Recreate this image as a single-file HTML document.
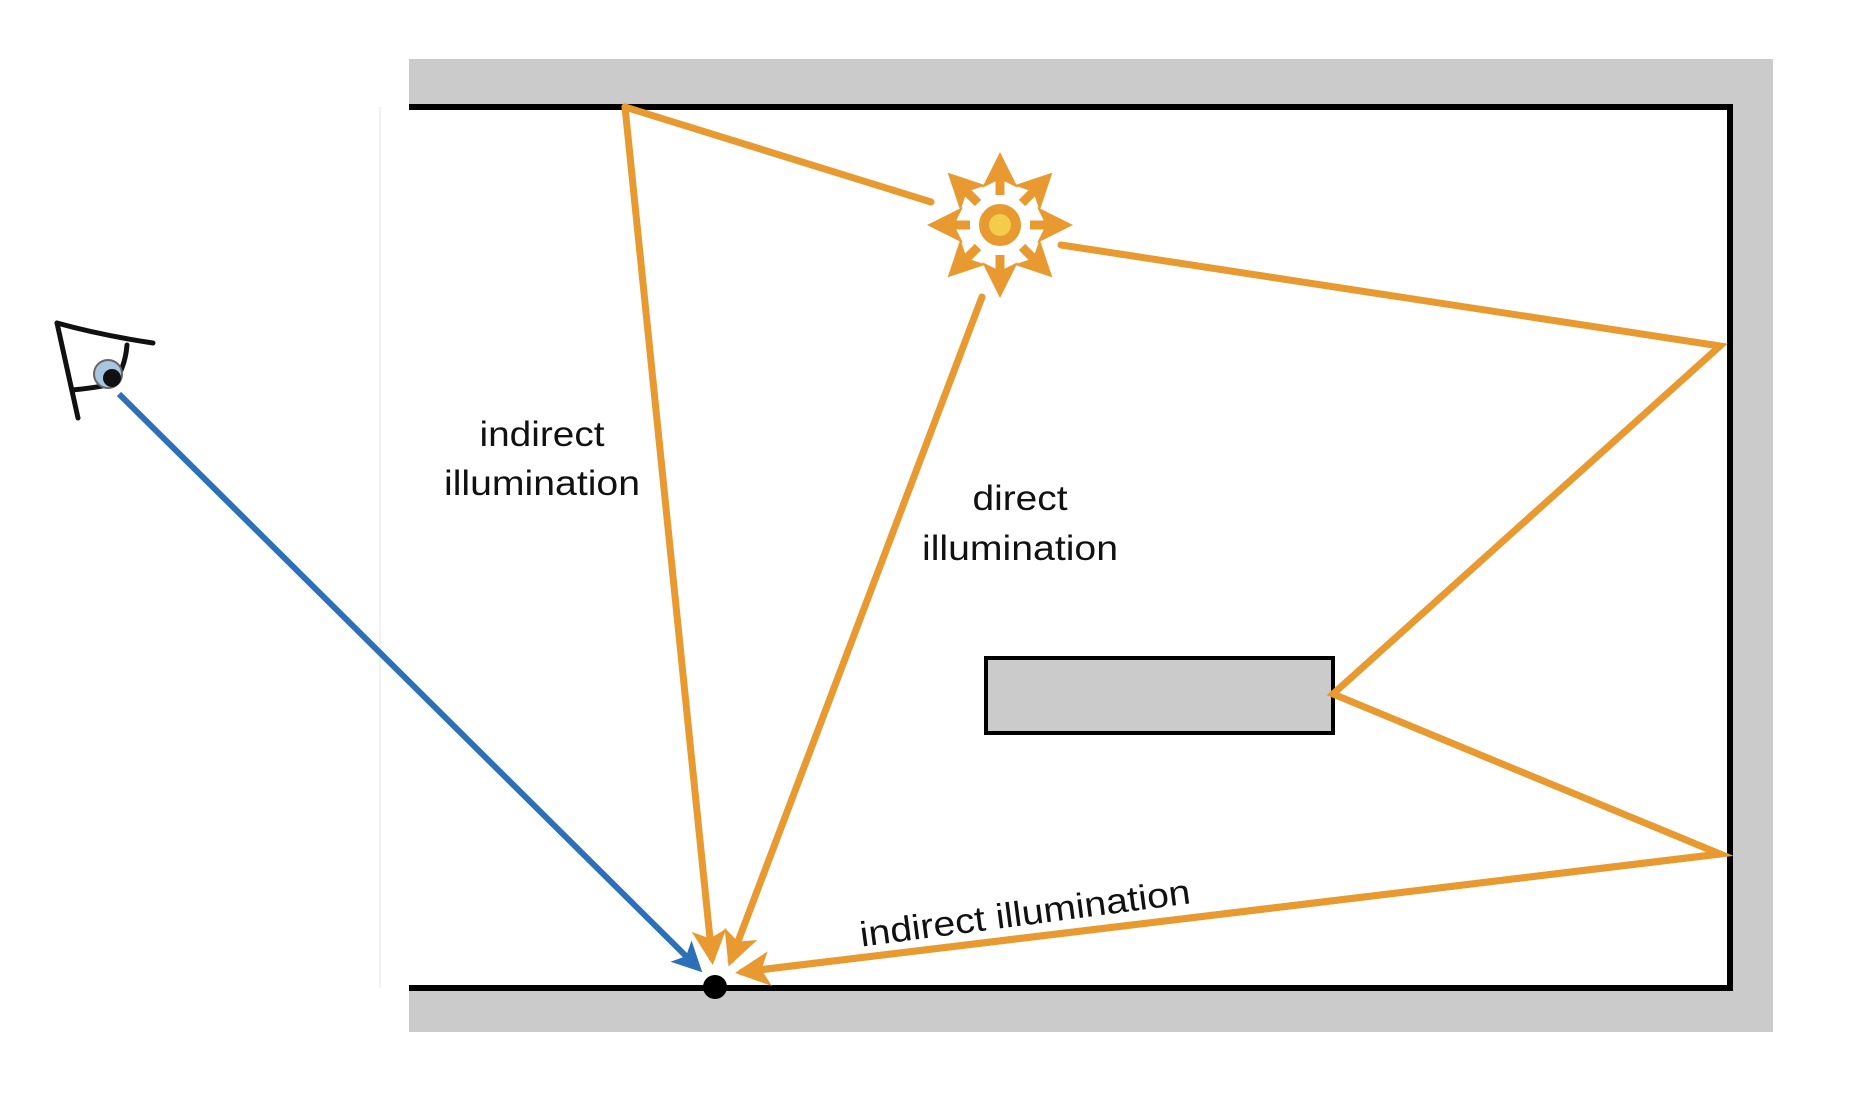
<!DOCTYPE html>
<html><head><style>html,body{margin:0;padding:0;background:#fff}svg{display:block}</style></head>
<body>
<svg width="1862" height="1098" viewBox="0 0 1862 1098" xmlns="http://www.w3.org/2000/svg">
<defs>
<marker id="ao" markerWidth="5" markerHeight="5" refX="4" refY="2.5" orient="auto" markerUnits="strokeWidth"><path d="M0,0 L5,2.5 L0,5 L1.2,2.5 Z" fill="#E89A30"/></marker>
<marker id="ab" markerWidth="5" markerHeight="5" refX="4" refY="2.5" orient="auto" markerUnits="strokeWidth"><path d="M0,0 L5,2.5 L0,5 L1.2,2.5 Z" fill="#2B70B8"/></marker>
<marker id="as" markerWidth="4" markerHeight="4" refX="3" refY="2" orient="auto" markerUnits="strokeWidth"><path d="M0,0 L4,2 L0,4 L1,2 Z" fill="#E89A30"/></marker>
</defs>
<rect x="409" y="59" width="1364" height="48" fill="#cbcbcb"/>
<rect x="1728" y="59" width="45" height="973" fill="#cbcbcb"/>
<rect x="409" y="988" width="1364" height="44" fill="#cbcbcb"/>
<line x1="380" y1="107" x2="380" y2="988" stroke="#f2f2f2" stroke-width="2"/>
<polyline points="409,107 1730,107 1730,988 409,988" fill="none" stroke="#000" stroke-width="6"/>
<rect x="986" y="658" width="347" height="75" fill="#cbcbcb" stroke="#000" stroke-width="4"/>
<g stroke="#E89A30" stroke-width="7" fill="none" stroke-linecap="round">
<line x1="931" y1="202" x2="625" y2="107"/>
<line x1="625" y1="107" x2="712" y2="958" marker-end="url(#ao)"/>
<polyline points="1061,245 1720,346 1333,694 1720,854 742,972"/>
<line x1="982" y1="297" x2="731" y2="960" marker-end="url(#ao)"/>
</g>
<line x1="1720" y1="854" x2="742" y2="972" stroke="#E89A30" stroke-width="7" marker-end="url(#ao)"/>
<line x1="119" y1="394" x2="698" y2="968" stroke="#2B70B8" stroke-width="6" marker-end="url(#ab)"/>
<circle cx="715" cy="987" r="12" fill="#000"/>
<g transform="translate(1000,225)" stroke="#E89A30" stroke-width="9">
<line x1="0" y1="-30" x2="0" y2="-64" marker-end="url(#as)"/>
<line x1="0" y1="30" x2="0" y2="64" marker-end="url(#as)"/>
<line x1="30" y1="0" x2="64" y2="0" marker-end="url(#as)"/>
<line x1="-30" y1="0" x2="-64" y2="0" marker-end="url(#as)"/>
<line x1="22" y1="-22" x2="46" y2="-46" marker-end="url(#as)"/>
<line x1="-22" y1="-22" x2="-46" y2="-46" marker-end="url(#as)"/>
<line x1="22" y1="22" x2="46" y2="46" marker-end="url(#as)"/>
<line x1="-22" y1="22" x2="-46" y2="46" marker-end="url(#as)"/>
</g>
<circle cx="1000" cy="225" r="16" fill="#F2CC4A" stroke="#E89A30" stroke-width="10"/>
<g fill="none" stroke="#111" stroke-width="5" stroke-linecap="round">
<path d="M57,323 Q100,335 153,343"/>
<path d="M57,323 L78,418"/>
<path d="M72,390 Q95,388 112,384 Q125,370 127,345"/>
</g>
<circle cx="108" cy="374" r="14" fill="#a9c6e0" stroke="#666" stroke-width="2"/>
<circle cx="112" cy="378" r="9" fill="#111"/>
<g font-family="Liberation Sans, sans-serif" font-size="35" fill="#111" text-anchor="middle">
<text x="542" y="446" textLength="125" lengthAdjust="spacingAndGlyphs">indirect</text>
<text x="542" y="495" textLength="196" lengthAdjust="spacingAndGlyphs">illumination</text>
<text x="1020" y="510" textLength="95" lengthAdjust="spacingAndGlyphs">direct</text>
<text x="1020" y="560" textLength="196" lengthAdjust="spacingAndGlyphs">illumination</text>
<text x="1025" y="925" transform="rotate(-7.5 1025 913)" textLength="333" lengthAdjust="spacingAndGlyphs">indirect illumination</text>
</g>
</svg>
</body></html>
